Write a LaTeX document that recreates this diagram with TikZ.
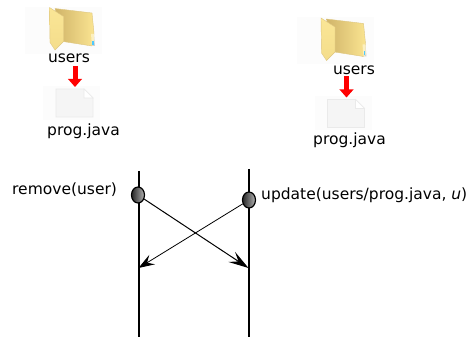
\documentclass[tikz,border=0pt]{standalone}
\usepackage{fontspec}
\setmainfont{DejaVu Sans}
\usetikzlibrary{arrows.meta,shapes.geometric}
\definecolor{folderback}{RGB}{208,180,105}
\definecolor{folderlight}{RGB}{250,228,145}
\definecolor{folderfront}{RGB}{250,230,150}
\definecolor{folderedge}{RGB}{222,198,128}
\definecolor{pagefill}{RGB}{245,245,245}
\definecolor{pageedge}{RGB}{234,234,234}
\definecolor{haze}{RGB}{252,252,252}
\tikzset{
  lbl/.style={font=\fontsize{15.5}{18}\selectfont, inner sep=0pt, anchor=center},
  timeline/.style={line width=2pt},
  msg/.style={line width=1pt, -{Stealth[length=20pt,width=12pt,inset=8pt]}},
  msgb/.style={line width=0.8pt, -{Stealth[length=16pt,width=11pt,inset=6pt]}},
  event/.style={draw=black, line width=1.2pt, ellipse, minimum width=13pt, minimum height=16pt,
    inner sep=0pt, left color=black!85, right color=black!30},
  redarrow/.style={red, line width=5pt, -{Triangle[length=8pt,width=13.5pt]}},
  icons/.pic={code={%

      % coordinates to be reused
      \coordinate (-top) at (75,66);
      \coordinate (-bot) at (75,87);

      % faint backgrounds
      \fill [haze] (25,7) rectangle (102,54);
      \fill [haze] (43,86) rectangle (100,120);

      % draw folder
      \fill [black!18] (90,34) -- (94,34) -- (95,46) -- (90,46) -- cycle;
      \shade [left color=folderback, right color=folderlight, draw=folderedge, line width=0.4pt]
        (55,8.5) -- (92,13) -- (94,33) -- (92,46) -- (63,41.5) -- cycle;
      \fill [folderfront!60!white] (91,34) -- (94,34) -- (94,44) -- (92,46) -- cycle;
      \fill [blue!30!cyan!70!white] (92.3,41) rectangle (93.6,45);
      \shade [top color=folderfront, bottom color=folderlight!85!folderback, draw=folderedge, line width=0.4pt]
        (49.5,7.5) -- (63.5,16.5) -- (63.5,41.5) -- (55,50) -- (50,42.5) -- cycle;

      % draw page
      \fill [pagefill, draw=pageedge, line width=0.8pt]
        (56,89) -- (84,89) -- (93,98) -- (93,117) -- (56,117) -- cycle;
      \fill [white, draw=pageedge, line width=0.6pt] (84,89) -- (84,98) -- (93,98) -- cycle;
}}}

\begin{document}
\begin{tikzpicture}[x=1pt, y=-1pt]
    \useasboundingbox (0,0) rectangle (467,337);
    \path (0,0) pic (lft) {icons};
    \path (271.5,10.5) pic (rgt) {icons};
    \draw [redarrow] (lft-top) -- (lft-bot);
    \draw [redarrow] (rgt-top) -- (rgt-bot);

    % add labels
    \node [lbl] (usersa) at (69,58.5) {users};
    \node [lbl] (proga) at (83.5,131.5) {prog.java};
    \node [lbl] (usersb) at (354,70) {users};
    \node [lbl] (progb) at (349.5,140.5) {prog.java};

    % timelines
    \coordinate (Atop) at (138.5,171);
    \coordinate (Abot) at (138.5,337);
    \coordinate (Btop) at (249,169);
    \coordinate (Bbot) at (249,337);
    \coordinate (Aend) at (138.5,268);
    \coordinate (Bend) at (248.5,268);
    \draw [timeline] (Atop) -- (Abot);
    \draw [timeline] (Btop) -- (Bbot);
    \node [event] (remove) at (138,195) {};
    \node [event] (update) at (249,200) {};
    \draw [msg] (remove) -- (Bend);
    \draw [msgb] (update) -- (Aend);
    \node [lbl, anchor=west] (removelbl) at (12,190) {remove(user)};
    \node [lbl, anchor=west] (updatelbl) at (261,195) {update(users/prog.java, \textit{u})};
\end{tikzpicture}
\end{document}
